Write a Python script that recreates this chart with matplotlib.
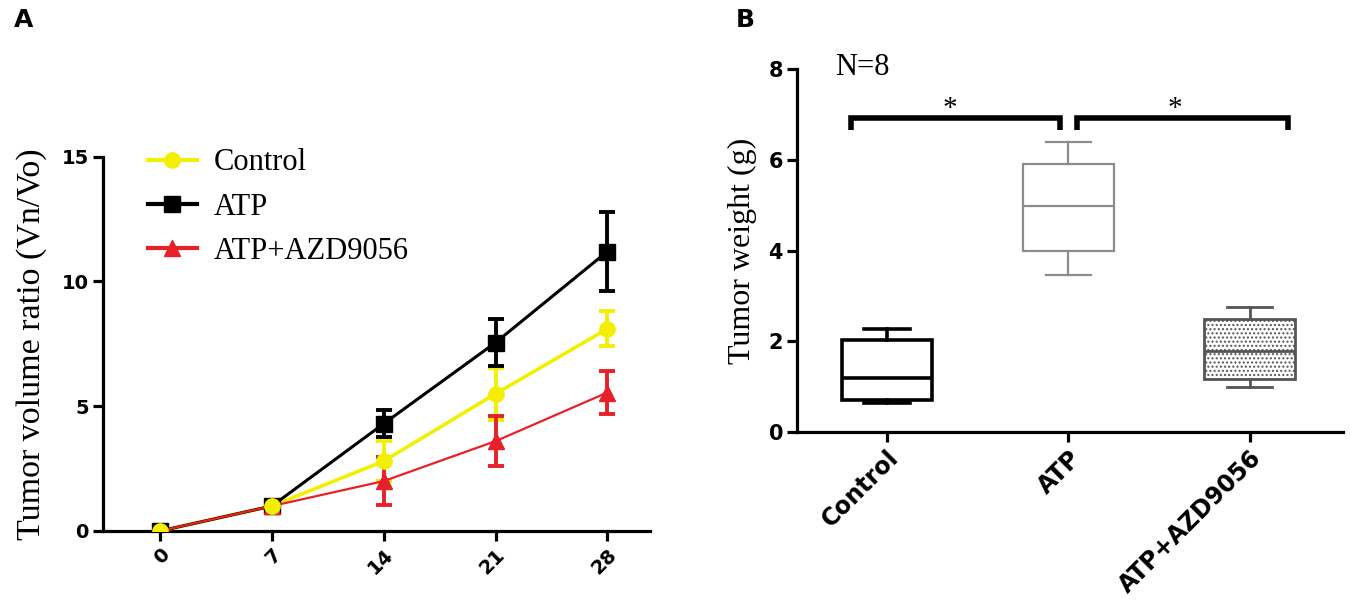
import matplotlib.pyplot as plt
from matplotlib.lines import Line2D

# panel A: tumor volume ratio over time
days = [0, 7, 14, 21, 28]
control_mean = [0, 1.0, 2.8, 5.5, 8.1]
control_err = [0, 0, 0.8, 1.05, 0.7]
atp_mean = [0, 1.0, 4.3, 7.55, 11.2]
atp_err = [0, 0, 0.55, 0.95, 1.6]
azd_mean = [0, 1.0, 2.0, 3.6, 5.55]
azd_err = [0, 0, 0.95, 1.0, 0.85]

# panel B: tumor weight box stats
groups = ["Control", "ATP", "ATP+AZD9056"]
whislo = [0.63, 3.47, 1.0]
q1 = [0.70, 4.0, 1.18]
med = [1.19, 4.98, 1.78]
q3 = [2.03, 5.92, 2.49]
whishi = [2.27, 6.39, 2.75]

serif = "Liberation Serif"
sans = "DejaVu Sans"
W, H = 1350, 606


def px_axes(left, right, top, bottom):
    return [left / W, 1 - bottom / H, (right - left) / W, (bottom - top) / H]


def style_axes(ax, size):
    for s in ["top", "right"]:
        ax.spines[s].set_visible(False)
    for s in ["left", "bottom"]:
        ax.spines[s].set_linewidth(2.3)
    ax.tick_params(width=2.3, length=7, direction="out", pad=3)
    for lab in ax.get_yticklabels():
        lab.set_fontfamily(sans)
        lab.set_fontweight("bold")
        lab.set_fontsize(size)


fig = plt.figure(figsize=(13.5, 6.06), dpi=100)

# ---- panel A
ax = fig.add_axes(px_axes(102.5, 650, 156.7, 531))
series = [
    ("Control", control_mean, control_err, "#f2f000", "o", 2.6),
    ("ATP", atp_mean, atp_err, "black", "s", 2.2),
    ("ATP+AZD9056", azd_mean, azd_err, "#e8202a", "^", 1.6),
]
handles = []
for name, mean, err, color, marker, lw in series:
    ax.errorbar(days, mean, yerr=err, color=color, marker=marker, markersize=11,
                lw=lw, elinewidth=2.8, capsize=6, capthick=2.8, zorder=3)
    handles.append(Line2D([], [], color=color, marker=marker, markersize=11, lw=3))
# control markers sit on top near the origin
ax.plot(days[:2], control_mean[:2], "o", color="#f2f000", markersize=11, zorder=5)

ax.set_xlim(-3.6, 30.67)
ax.set_ylim(0, 15)
ax.set_xticks(days)
ax.set_yticks([0, 5, 10, 15])
ax.set_xticklabels([str(d) for d in days], rotation=45, ha="right", rotation_mode="anchor",
                   fontfamily=sans, fontweight="bold", fontsize=14)
style_axes(ax, 14)
ax.set_ylabel("Tumor volume ratio (Vn/Vo)", fontfamily=serif, fontsize=24.5, labelpad=10)
ax.legend(handles=handles, labels=[s[0] for s in series], loc="upper left",
          bbox_to_anchor=((148 - 102.5) / 547.5, 1.022), frameon=False, borderpad=0,
          borderaxespad=0, prop={"family": serif, "size": 22}, handlelength=1.6,
          handletextpad=0.55, labelspacing=0.5)

# ---- panel B
bx = fig.add_axes(px_axes(797, 1343, 69.3, 432))
box_colors = ["black", "#8c8c8c", "#555555"]
box_lw = [2.6, 1.6, 2.0]
for i, g in enumerate(groups):
    st = {"label": g, "whislo": whislo[i], "q1": q1[i], "med": med[i],
          "q3": q3[i], "whishi": whishi[i], "fliers": []}
    c = box_colors[i]
    bp = bx.bxp([st], positions=[i], widths=0.5, patch_artist=True, showfliers=False,
                boxprops=dict(facecolor="white", edgecolor=c, linewidth=box_lw[i]),
                medianprops=dict(color=c, linewidth=box_lw[i]),
                whiskerprops=dict(color=c, linewidth=box_lw[i]),
                capprops=dict(color=c, linewidth=box_lw[i]), capwidths=0.25)
    if i == 2:
        bp["boxes"][0].set_hatch("....")

bx.set_xlim(-0.496, 2.515)
bx.set_ylim(0, 8)
bx.set_xticks(range(len(groups)))
bx.set_xticklabels(groups, rotation=45, ha="right", rotation_mode="anchor",
                   fontfamily=sans, fontweight="bold", fontsize=17)
bx.set_yticks([0, 2, 4, 6, 8])
style_axes(bx, 15)
bx.set_ylabel("Tumor weight (g)", fontfamily=serif, fontsize=23, labelpad=8)

# significance brackets
for x0, x1, xs in [(-0.2, 0.956, 0.345), (1.05, 2.214, 1.59)]:
    bx.plot([x0, x0, x1, x1], [6.67, 6.93, 6.93, 6.67], color="black", lw=4,
            solid_joinstyle="miter", solid_capstyle="butt")
    bx.text(xs, 6.98, "*", fontfamily=serif, fontsize=21, ha="center", va="baseline")
bx.text(0.07, 1.004, "N=8", transform=bx.transAxes, fontfamily=serif, fontsize=22,
        ha="left", va="center")

fig.text(14 / W, 1 - 20 / H, "A", fontfamily=sans, fontweight="bold", fontsize=18,
         ha="left", va="center")
fig.text(736 / W, 1 - 20 / H, "B", fontfamily=sans, fontweight="bold", fontsize=18,
         ha="left", va="center")

fig.savefig("out.png", dpi=100, facecolor="white")
